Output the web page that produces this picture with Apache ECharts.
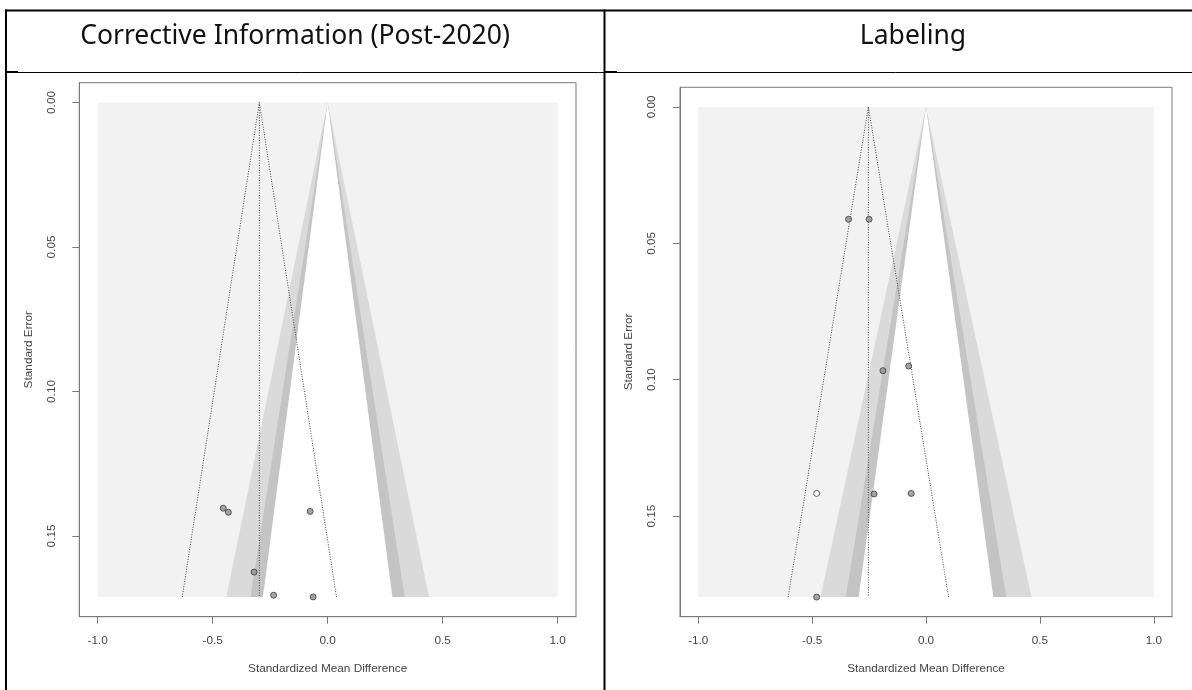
<!DOCTYPE html>
<html><head><meta charset="utf-8">
<script src="https://cdn.jsdelivr.net/npm/echarts@6/dist/echarts.min.js"></script>
<style>html,body{margin:0;padding:0;background:#fff}#c{width:1192px;height:690px}</style>
</head><body><div id="c"></div>
<script>
// ---- data ----
const panelTitles = ['Corrective Information (Post-2020)', 'Labeling'];
const xTicks = [-1, -0.5, 0, 0.5, 1];
const yTicks = [0, 0.05, 0.10, 0.15];
const xAxisTitle = 'Standardized Mean Difference';
const yAxisTitle = 'Standard Error';
const contourZ = [2.576, 1.960, 1.645];          // 99%, 95%, 90% contours
const ciZ = 1.96;                                // pseudo-confidence funnel

// Panel 1: Corrective Information (Post-2020)
const ciSMD = [-0.454, -0.432, -0.076, -0.320, -0.235, -0.063];
const ciSE  = [0.1404, 0.1418, 0.1415, 0.1625, 0.1705, 0.1711];
const ciImputed = [false, false, false, false, false, false];
const ciEstimate = -0.297;

// Panel 2: Labeling
const labSMD = [-0.340, -0.250, -0.189, -0.076, -0.480, -0.228, -0.065, -0.480];
const labSE  = [0.0412, 0.0412, 0.0967, 0.0950, 0.1417, 0.1419, 0.1417, 0.1797];
const labImputed = [false, false, false, false, true, false, false, false];
const labEstimate = -0.253;

// ---- layout / styles ----
const panels = [
  {smd: ciSMD, se: ciSE, imp: ciImputed, est: ciEstimate,
   grid: {left: 79.3, top: 82.7, width: 496.7, height: 534}, fs: 11.8},
  {smd: labSMD, se: labSE, imp: labImputed, est: labEstimate,
   grid: {left: 680, top: 87.3, width: 492, height: 529.4}, fs: 11.7}
];
const contourColors = ['#dadada', '#c4c4c4', '#ffffff'];
const backColor = '#f2f2f2';
const axisColor = '#7a7a7a';
const textColor = '#454545';
const fontFam = '"Liberation Sans", Arial, sans-serif';

const grids = [], xAxes = [], yAxes = [], series = [];
panels.forEach((p, i) => {
  const ymax = Math.max(...p.se);
  grids.push(Object.assign({show: true, borderColor: axisColor, borderWidth: 1, backgroundColor: 'transparent'}, p.grid));
  xAxes.push({
    gridIndex: i, type: 'value', min: -1.08, max: 1.08,
    axisLine: {show: true, onZero: false, lineStyle: {color: axisColor}},
    axisTick: {show: true, customValues: xTicks, length: 7, lineStyle: {color: axisColor}},
    axisLabel: {customValues: xTicks, formatter: v => v.toFixed(1), color: textColor,
      fontFamily: fontFam, fontSize: p.fs, margin: 18},
    splitLine: {show: false},
    name: xAxisTitle, nameLocation: 'middle', nameGap: 46,
    nameTextStyle: {color: textColor, fontFamily: fontFam, fontSize: p.fs}
  });
  yAxes.push({
    gridIndex: i, type: 'value', inverse: true, min: -0.04 * ymax, max: 1.04 * ymax,
    axisLine: {show: true, onZero: false, lineStyle: {color: axisColor}},
    axisTick: {show: true, customValues: yTicks, length: 7, lineStyle: {color: axisColor}},
    axisLabel: {customValues: yTicks, formatter: v => v.toFixed(2), rotate: 90, color: textColor,
      fontFamily: fontFam, fontSize: p.fs, margin: 22},
    splitLine: {show: false},
    name: yAxisTitle, nameLocation: 'middle', nameRotate: 90, nameGap: 45,
    nameTextStyle: {color: textColor, fontFamily: fontFam, fontSize: p.fs}
  });
  // shaded background + contour regions
  const polys = [{pts: [[-1, 0], [1, 0], [1, ymax], [-1, ymax]], color: backColor}];
  contourZ.forEach((z, k) => polys.push({pts: [[0, 0], [z * ymax, ymax], [-z * ymax, ymax]], color: contourColors[k]}));
  series.push({
    type: 'custom', xAxisIndex: i, yAxisIndex: i, silent: true, z: 1,
    data: polys.map(pl => pl.pts[0]),
    renderItem: (params, api) => {
      const pl = polys[params.dataIndex];
      return {type: 'polygon', shape: {points: pl.pts.map(pt => api.coord(pt))},
        style: {fill: pl.color, stroke: null}};
    }
  });
  const dot = {color: '#4a4a4a', width: 1, type: [1, 1.5]};
  series.push({
    type: 'line', xAxisIndex: i, yAxisIndex: i, silent: true, z: 2, showSymbol: false, symbol: 'none',
    data: [[p.est - ciZ * ymax, ymax], [p.est, 0], [p.est + ciZ * ymax, ymax]], lineStyle: dot
  });
  series.push({
    type: 'line', xAxisIndex: i, yAxisIndex: i, silent: true, z: 2, showSymbol: false, symbol: 'none',
    data: [[p.est, 0], [p.est, ymax]], lineStyle: dot
  });
  series.push({
    type: 'scatter', xAxisIndex: i, yAxisIndex: i, silent: true, z: 3, symbolSize: 6,
    data: p.smd.map((x, k) => ({value: [x, p.se[k]],
      itemStyle: {color: p.imp[k] ? '#ffffff' : '#8e8e8e', borderColor: '#3c3c3c', borderWidth: 1}}))
  });
});

// table frame and header texts
const tableLines = [
  {x1: 5, y1: 10.5, x2: 1192, y2: 10.5, w: 2},
  {x1: 6, y1: 9.5, x2: 6, y2: 690, w: 2},
  {x1: 604.5, y1: 9.5, x2: 604.5, y2: 690, w: 2},
  {x1: 5, y1: 72.5, x2: 1192, y2: 72.5, w: 1},
  {x1: 5, y1: 72, x2: 18, y2: 72, w: 2},
  {x1: 604, y1: 72, x2: 617, y2: 72, w: 2}
];
const graphics = tableLines.map(l => ({type: 'line', silent: true,
  shape: {x1: l.x1, y1: l.y1, x2: l.x2, y2: l.y2}, style: {stroke: '#000', lineWidth: l.w}}));
const titleX = [295, 913];
panelTitles.forEach((t, i) => graphics.push({type: 'text', silent: true, x: titleX[i], y: 36,
  style: {text: t, fill: '#111', font: '26.5px "Noto Sans", "Open Sans", sans-serif', textAlign: 'center', textVerticalAlign: 'middle'}}));

const chart = echarts.init(document.getElementById('c'), null, {renderer: 'canvas'});
chart.setOption({
  animation: false, backgroundColor: '#ffffff',
  grid: grids, xAxis: xAxes, yAxis: yAxes, series: series, graphic: graphics
});
</script></body></html>
